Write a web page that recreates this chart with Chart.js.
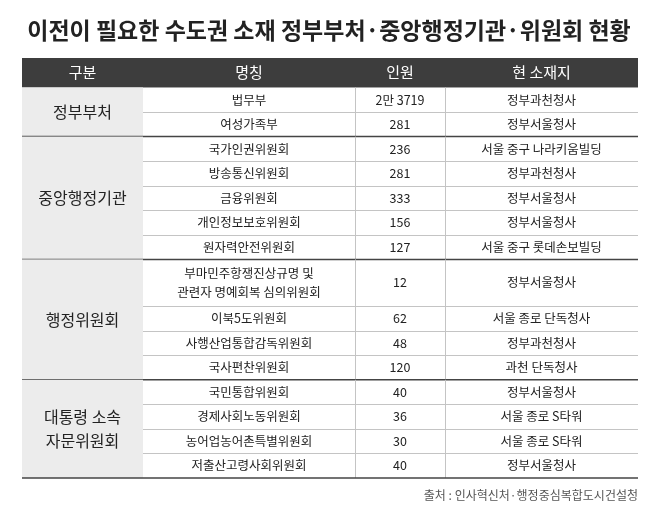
<!DOCTYPE html>
<html><head><meta charset="utf-8">
<script src="https://cdn.jsdelivr.net/npm/chart.js@4"></script>
<style>html,body{margin:0;padding:0;background:#fff}canvas{display:block}</style>
</head><body>
<div style="width:658px;height:517px"><canvas id="c"></canvas></div>
<script>
const title = '이전이 필요한 수도권 소재 정부부처·중앙행정기관·위원회 현황';
const headers = ['구분','명칭','인원','현 소재지'];
const groups = ['정부부처','중앙행정기관','행정위원회','대통령 소속\n자문위원회'];
const groupSizes = [2,5,4,4];
const names = ['법무부','여성가족부','국가인권위원회','방송통신위원회','금융위원회','개인정보보호위원회','원자력안전위원회','부마민주항쟁진상규명 및\n관련자 명예회복 심의위원회','이북5도위원회','사행산업통합감독위원회','국사편찬위원회','국민통합위원회','경제사회노동위원회','농어업농어촌특별위원회','저출산고령사회위원회'];
const staff = ['2만 3719','281','236','281','333','156','127','12','62','48','120','40','36','30','40'];
const locations = ['정부과천청사','정부서울청사','서울 중구 나라키움빌딩','정부과천청사','정부서울청사','정부서울청사','서울 중구 롯데손보빌딩','정부서울청사','서울 종로 단독청사','정부과천청사','과천 단독청사','정부서울청사','서울 종로 S타워','서울 종로 S타워','정부서울청사'];
const rowUnits = [1,1,1,1,1,1,1,1.9,1,1,1,1,1,1,1];
const source = '출처 : 인사혁신처·행정중심복합도시건설청';

const colEdges=[0,121,333,423,616];
const headerU=1.2;
const totalU=headerU+rowUnits.reduce((a,b)=>a+b,0);
const F='"Noto Sans CJK KR","Noto Sans",sans-serif';

function ml(ctx,text,x,y,lh){const ls=text.split('\n');ls.forEach((l,i)=>ctx.fillText(l,x,y+(i-(ls.length-1)/2)*lh));}

const tablePlugin={id:'table',afterDraw(chart){
  const ctx=chart.ctx,xs=chart.scales.x,ys=chart.scales.y;
  const X=v=>xs.getPixelForValue(v),Y=v=>ys.getPixelForValue(v);
  ctx.save();
  ctx.fillStyle='#222';ctx.font='bold 23px '+F;ctx.textAlign='center';ctx.textBaseline='middle';
  ctx.fillText(title,329,30);
  // header
  ctx.fillStyle='#3d3d3d';ctx.fillRect(X(0),Y(0),X(616)-X(0),Y(headerU)-Y(0));
  ctx.fillStyle='#fff';ctx.font='15px '+F;
  headers.forEach((h,i)=>ctx.fillText(h,(X(colEdges[i])+X(colEdges[i+1]))/2,(Y(0)+Y(headerU))/2));
  // rows
  let y=headerU,r=0;
  groups.forEach((g,gi)=>{
    const y0=y;
    let yy=y;
    for(let k=0;k<groupSizes[gi];k++){yy+=rowUnits[r+k];}
    ctx.fillStyle='#ececec';ctx.fillRect(X(0),Y(y0),X(121)-X(0),Y(yy)-Y(y0));
    ctx.fillStyle='#222';ctx.font='16px '+F;
    ml(ctx,g,(X(0)+X(121))/2,(Y(y0)+Y(yy))/2,24);
    for(let k=0;k<groupSizes[gi];k++){
      const a=y,b=y+rowUnits[r];const cy=(Y(a)+Y(b))/2;
      ctx.fillStyle='#222';ctx.font='12.5px '+F;
      ml(ctx,names[r],(X(121)+X(333))/2,cy,19);
      ctx.fillText(staff[r],(X(333)+X(423))/2,cy);
      ctx.fillText(locations[r],(X(423)+X(616))/2,cy);
      if(k<groupSizes[gi]-1){ctx.strokeStyle='#c4c4c4';ctx.lineWidth=1;ctx.beginPath();ctx.moveTo(X(121),Math.round(Y(b))+0.5);ctx.lineTo(X(616),Math.round(Y(b))+0.5);ctx.stroke();}
      y=b;r++;
    }
    ctx.strokeStyle='#c4c4c4';ctx.lineWidth=1;
    [333,423].forEach(c=>{ctx.beginPath();ctx.moveTo(Math.round(X(c))+0.5,Y(y0));ctx.lineTo(Math.round(X(c))+0.5,Y(yy));ctx.stroke();});
    ctx.strokeStyle='#444';ctx.lineWidth=1.5;ctx.beginPath();ctx.moveTo(X(0),Y(yy));ctx.lineTo(X(616),Y(yy));ctx.stroke();
  });
  ctx.fillStyle='#555';ctx.font='12px '+F;ctx.textAlign='right';
  ctx.fillText(source,X(616),495);
  ctx.restore();
}};

new Chart(document.getElementById('c'),{
  type:'scatter',
  data:{datasets:[{data:[{x:0,y:0},{x:616,y:totalU}],pointRadius:0}]},
  options:{responsive:true,maintainAspectRatio:false,animation:false,
    layout:{padding:{left:22,right:20,top:58,bottom:39}},
    plugins:{legend:{display:false},tooltip:{enabled:false}},
    scales:{x:{type:'linear',min:0,max:616,display:false},y:{type:'linear',min:0,max:totalU,reverse:true,display:false}}},
  plugins:[tablePlugin]
});
</script></body></html>
